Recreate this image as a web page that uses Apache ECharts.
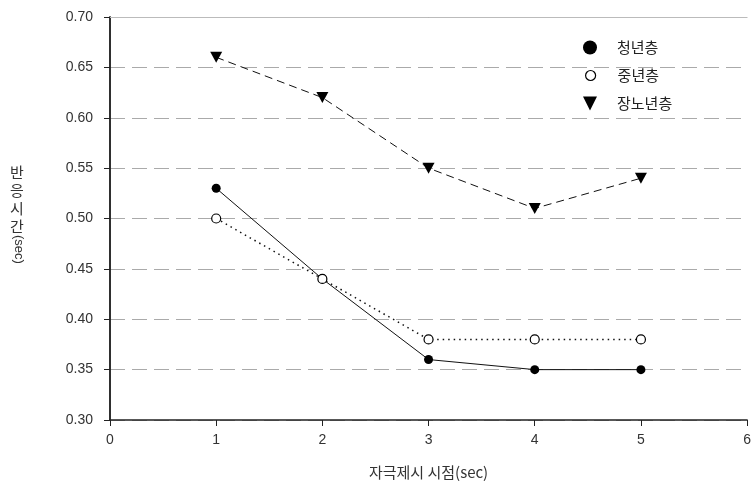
<!DOCTYPE html>
<html><head><meta charset="utf-8">
<script src="https://cdn.jsdelivr.net/npm/echarts@6/dist/echarts.min.js"></script>
<style>html,body{margin:0;padding:0;background:#fff}#c{width:754px;height:491px}</style>
</head><body><div id="c"></div>
<script>
const xValues = [1, 2, 3, 4, 5];
const youth = [0.53, 0.44, 0.36, 0.35, 0.35];
const middle = [0.50, 0.44, 0.38, 0.38, 0.38];
const senior = [0.66, 0.62, 0.55, 0.51, 0.54];
const seriesNames = ['청년층', '중년층', '장노년층'];
const xTitle = '자극제시 시점(sec)';
const yTitleKo = '반응시간';
const yTitleUnit = '(sec)';

const pairs = arr => xValues.map((x, i) => [x, arr[i]]);
const labelFont = { fontFamily: '"Liberation Sans", Arial, sans-serif', fontSize: 14, color: '#333' };
const krFont = '"Noto Sans CJK KR", sans-serif';
const legendText = pad => ({ fontFamily: krFont, fontSize: 15, color: '#222', padding: [0, 0, 0, pad] });

const chart = echarts.init(document.getElementById('c'), null, { renderer: 'canvas' });
chart.setOption({
  animation: false,
  backgroundColor: '#fff',
  grid: { left: 110, right: 2, top: 17, bottom: 71, containLabel: false },
  xAxis: [{
    type: 'value', min: 0, max: 6, interval: 1,
    axisLine: { show: true, lineStyle: { color: '#222', width: 1.5 } },
    axisTick: { show: true, length: 6, lineStyle: { color: '#222' } },
    axisLabel: Object.assign({ margin: 13 }, labelFont),
    splitLine: { show: false },
    name: xTitle, nameLocation: 'middle', nameGap: 45,
    nameTextStyle: { fontFamily: krFont, fontSize: 15, color: '#333' }
  }, {
    type: 'value', min: 0, max: 6, interval: 1, position: 'top',
    axisLine: { show: true, lineStyle: { color: '#bbb', width: 1 } },
    axisTick: { show: false }, axisLabel: { show: false }, splitLine: { show: false }
  }],
  yAxis: [{
    type: 'value', min: 0.30, max: 0.70, interval: 0.05,
    axisLine: { show: true, lineStyle: { color: '#222', width: 1.5 } },
    axisTick: { show: true, length: 6, lineStyle: { color: '#222' } },
    axisLabel: Object.assign({ margin: 17, formatter: v => v.toFixed(2) }, labelFont),
    splitLine: { show: true, lineStyle: { color: '#aaa', width: 1, type: [15, 7] } }
  }, {
    type: 'value', min: 0.30, max: 0.70, interval: 0.05, position: 'right',
    axisLine: { show: true, lineStyle: { color: '#222', width: 1.5 } },
    axisTick: { show: false }, axisLabel: { show: false }, splitLine: { show: false }
  }],
  legend: [{
    left: 578, top: 35, itemWidth: 14, itemHeight: 14, textStyle: legendText(15),
    data: [{ name: seriesNames[0], icon: 'circle', itemStyle: { color: '#000' } }]
  }, {
    left: 580, top: 63, itemWidth: 10, itemHeight: 10, textStyle: legendText(17),
    data: [{ name: seriesNames[1], icon: 'path://M5,0A5,5 0 1,1 4.99,0Z', itemStyle: { color: '#fff', borderColor: '#000', borderWidth: 1.2 } }]
  }, {
    left: 578, top: 91, itemWidth: 14, itemHeight: 14, textStyle: legendText(15),
    data: [{ name: seriesNames[2], icon: 'path://M0,0L10,0L5,10Z', itemStyle: { color: '#000' } }]
  }],
  series: [{
    name: seriesNames[0], type: 'line', data: pairs(youth),
    symbol: 'circle', symbolSize: 9,
    itemStyle: { color: '#000', borderColor: '#000', borderWidth: 0 },
    lineStyle: { color: '#111', width: 1, type: 'solid' }, z: 3
  }, {
    name: seriesNames[1], type: 'line', data: pairs(middle),
    symbol: 'circle', symbolSize: 9,
    itemStyle: { color: '#fff', borderColor: '#000', borderWidth: 1.2 },
    lineStyle: { color: '#111', width: 1.5, type: [1.5, 4] }, z: 4
  }, {
    name: seriesNames[2], type: 'line', data: pairs(senior),
    symbol: 'triangle', symbolRotate: 180, symbolSize: [12, 11],
    itemStyle: { color: '#000' },
    lineStyle: { color: '#111', width: 1, type: [8, 5] }, z: 3
  }],
  graphic: [{
    type: 'text', left: 10, top: 163,
    style: { text: yTitleKo.split('').join('\n'), font: '15px ' + krFont, fill: '#333', lineHeight: 18, align: 'center' }
  }, {
    type: 'text', x: 25, y: 235, rotation: -Math.PI / 2,
    style: { text: yTitleUnit, font: '13px "Liberation Sans", Arial, sans-serif', fill: '#333' }
  }]
});
</script></body></html>
